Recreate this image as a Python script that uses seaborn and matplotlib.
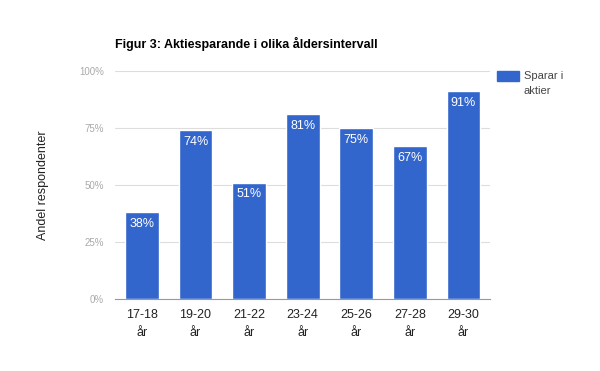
import pandas as pd
import seaborn as sns
import matplotlib.pyplot as plt
from matplotlib.patches import Rectangle

# Data
kategorier = ["17-18\når", "19-20\når", "21-22\når", "23-24\når", "25-26\når", "27-28\når", "29-30\når"]
andel = [38, 74, 51, 81, 75, 67, 91]
y_ticks = [0, 25, 50, 75, 100]
serienamn = "Sparar i\naktier"

df = pd.DataFrame({"kategori": kategorier, "andel": andel})

sns.set_style("white")
plt.rcParams["font.family"] = ["Liberation Sans", "DejaVu Sans"]

fig = plt.figure(figsize=(6, 3.71), dpi=100)
ax = fig.add_axes([0.192, 0.194, 0.625, 0.615])

farg = "#3366CC"
sns.barplot(data=df, x="kategori", y="andel", color=farg, width=0.63,
            saturation=1, ax=ax, zorder=3)

# Etiketter inne i staplarna
for i, v in enumerate(andel):
    ax.text(i, v - 2.5, f"{v}%", ha="center", va="top", color="white", fontsize=9)

ax.set_ylim(0, 100)
ax.set_yticks(y_ticks)
ax.set_yticklabels([f"{t}%" for t in y_ticks], color="#aaaaaa", fontsize=7)
ax.tick_params(axis="x", labelsize=9, colors="#222222", length=0, pad=7)
ax.tick_params(axis="y", length=0, pad=8)
ax.yaxis.grid(True, color="#dddddd", linewidth=0.8, zorder=0)
for s in ["top", "right", "left"]:
    ax.spines[s].set_visible(False)
ax.spines["bottom"].set_color("#999999")
ax.spines["bottom"].set_linewidth(0.8)
ax.spines["bottom"].set_zorder(4)
ax.set_xlim(-0.5, len(kategorier) - 0.5)

ax.set_xlabel("")
ax.set_ylabel("Andel respondenter", fontsize=9, color="#222222", labelpad=22)
fig.text(0.192, 0.87, "Figur 3: Aktiesparande i olika åldersintervall",
         fontsize=9, fontweight="bold", color="#000000")

# Förklaring till höger
fig.patches.append(Rectangle((0.828, 0.782), 0.037, 0.027, color=farg,
                             transform=fig.transFigure, figure=fig))
fig.text(0.873, 0.809, serienamn, fontsize=8, color="#444444", va="top",
         linespacing=1.6)

fig.canvas.draw()
for t in ax.get_xticklabels():
    t.set_linespacing(1.7)

plt.savefig("out.png", dpi=100)
